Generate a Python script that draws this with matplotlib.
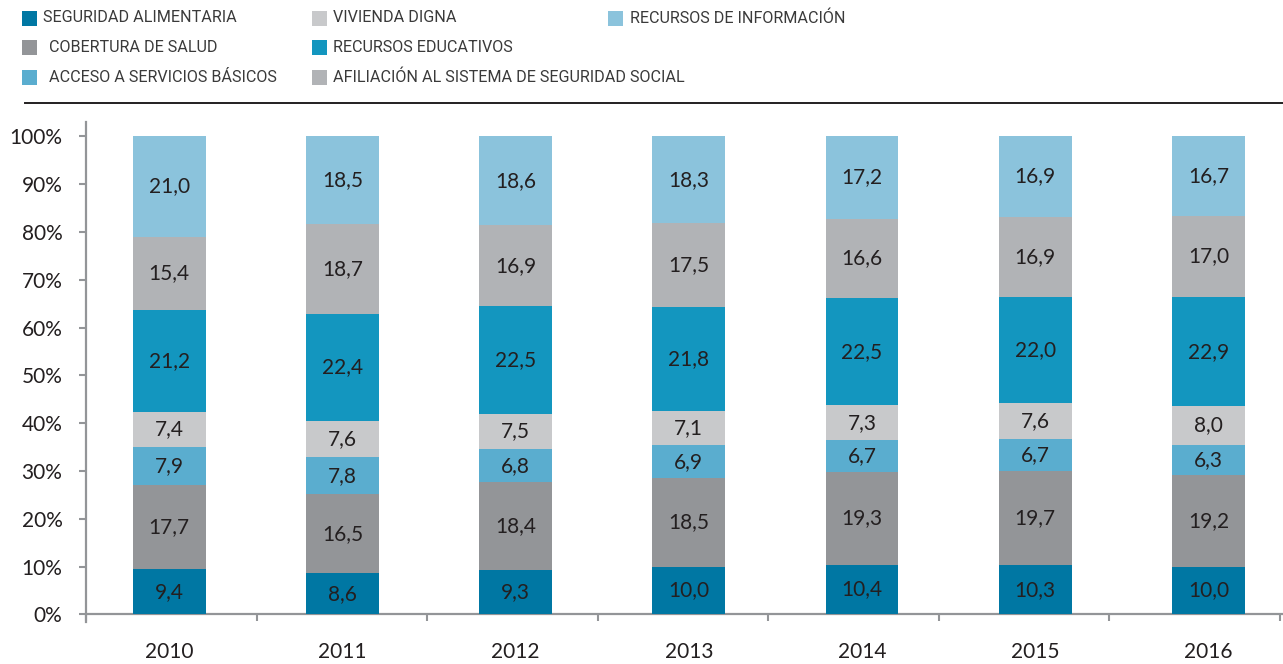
import matplotlib
matplotlib.use("Agg")
import matplotlib.pyplot as plt
from matplotlib.lines import Line2D
from matplotlib.patches import Rectangle
import numpy as np

years = ["2010", "2011", "2012", "2013", "2014", "2015", "2016"]
series_names = [
    "SEGURIDAD ALIMENTARIA",
    "COBERTURA DE SALUD",
    "ACCESO A SERVICIOS BÁSICOS",
    "VIVIENDA DIGNA",
    "RECURSOS EDUCATIVOS",
    "AFILIACIÓN AL SISTEMA DE SEGURIDAD SOCIAL",
    "RECURSOS DE INFORMACIÓN",
]
seguridad_alimentaria = [9.4, 8.6, 9.3, 10.0, 10.4, 10.3, 10.0]
cobertura_salud = [17.7, 16.5, 18.4, 18.5, 19.3, 19.7, 19.2]
acceso_servicios = [7.9, 7.8, 6.8, 6.9, 6.7, 6.7, 6.3]
vivienda_digna = [7.4, 7.6, 7.5, 7.1, 7.3, 7.6, 8.0]
recursos_educativos = [21.2, 22.4, 22.5, 21.8, 22.5, 22.0, 22.9]
afiliacion = [15.4, 18.7, 16.9, 17.5, 16.6, 16.9, 17.0]
recursos_informacion = [21.0, 18.5, 18.6, 18.3, 17.2, 16.9, 16.7]
yticks = [0, 10, 20, 30, 40, 50, 60, 70, 80, 90, 100]

series_values = [seguridad_alimentaria, cobertura_salud, acceso_servicios,
                 vivienda_digna, recursos_educativos, afiliacion, recursos_informacion]
colors = ["#0077a3", "#939598", "#5aadcf", "#c8c9cb", "#1396bf", "#b1b3b6", "#8bc3dc"]

W, H = 1283, 664
fig = plt.figure(figsize=(W / 100, H / 100), dpi=100)
ax = fig.add_axes([86 / W, (H - 622) / H, 1197 / W, 500 / H])

num_font = ["Lato", "DejaVu Sans"]
txt_col = "#231f20"
axis_col = "#939598"

x = np.arange(len(years))
bottom = np.zeros(len(years))
for vals, col in zip(series_values, colors):
    vals = np.array(vals)
    ax.bar(x, vals, width=0.42, bottom=bottom, color=col, edgecolor="none", zorder=2)
    for xi, b, v in zip(x, bottom, vals):
        ax.text(xi, b + v / 2, f"{v:.1f}".replace(".", ","), ha="center", va="center",
                fontsize=15, color=txt_col, family=num_font, zorder=3)
    bottom += vals

x_left, x_right = -0.48, 6.43
ax.set_xlim(x_left, x_right)
ax.set_ylim(-1.6, 103)

for s in ["top", "right"]:
    ax.spines[s].set_visible(False)
ax.spines["bottom"].set_position(("data", 0))
for s in ["left", "bottom"]:
    ax.spines[s].set_color(axis_col)
    ax.spines[s].set_linewidth(1.6)
    ax.spines[s].set_zorder(1)

ax.set_yticks(yticks)
ax.set_yticklabels([f"{t}%" for t in yticks], family=num_font, fontsize=15, color=txt_col)
ax.tick_params(axis="y", direction="out", length=5, width=1.5, color=axis_col, pad=12)

ax.set_xticks(np.linspace(x_left, 6.41, len(years) + 1))
ax.set_xticklabels([])
ax.tick_params(axis="x", which="major", direction="out", length=5, width=1.5, color=axis_col)
ax.set_xticks(x, minor=True)
ax.set_xticklabels(years, minor=True, family=num_font, fontsize=15, color=txt_col)
ax.tick_params(axis="x", which="minor", length=0, pad=20)

# separator line under legend
fig.add_artist(Line2D([25 / W, 1.0], [1 - 103 / H, 1 - 103 / H], color="#231f20", lw=1.4))

# legend (manual layout, 3 columns)
leg_font = ["Roboto", "DejaVu Sans"]
col_x = [22, 312, 608]
row_y = [18, 47, 77]
text_dx = [[21, 27, 27], [21, 21, 21], [22, 22, 22]]
for i, (name, col) in enumerate(zip(series_names, colors)):
    c, r = divmod(i, 3)
    mx, my = col_x[c], row_y[r]
    fig.add_artist(Rectangle((mx / W, 1 - (my + 7.5) / H), 15 / W, 15 / H,
                             transform=fig.transFigure, color=col, lw=0))
    fig.text((mx + text_dx[c][r]) / W, 1 - my / H, name, ha="left", va="center",
             fontsize=11.6, color="#3a3a3a", family=leg_font)

fig.savefig("out.png", dpi=100)
